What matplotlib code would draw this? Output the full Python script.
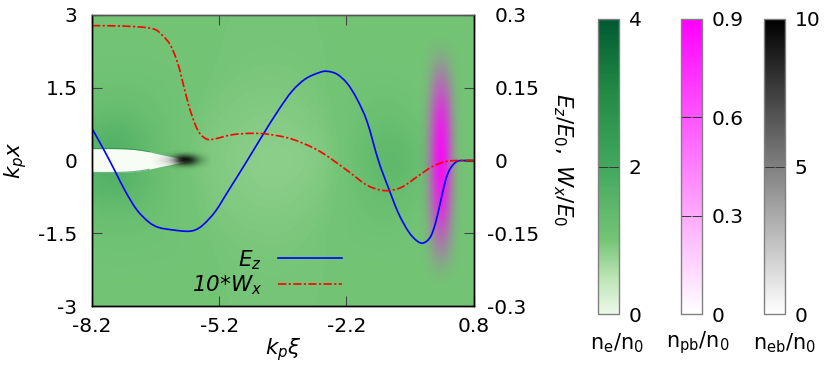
import numpy as np
import matplotlib
matplotlib.use("Agg")
import matplotlib.pyplot as plt
from matplotlib.colors import LinearSegmentedColormap, Normalize
from matplotlib.cm import ScalarMappable
from matplotlib.lines import Line2D
from matplotlib.patches import PathPatch
from matplotlib.path import Path
from matplotlib.transforms import ScaledTranslation

plt.rcParams['font.family'] = 'DejaVu Sans'
plt.rcParams['mathtext.fontset'] = 'dejavusans'

# ---- curves ----
ez_xi = [-8.2,-7.92,-7.65,-7.41,-7.14,-6.86,-6.63,-6.31,-5.96,-5.76,-5.57,-5.29,-4.98,-4.58,-4.19,-3.80,-3.48,-3.17,-2.85,-2.66,-2.42,-2.18,-1.95,-1.71,-1.44,-1.20,-0.97,-0.73,-0.53,-0.38,-0.22,-0.10,0.02,0.14,0.25,0.41,0.61,0.8]
ez_val = [.066,.022,-.023,-.064,-.102,-.127,-.138,-.143,-.146,-.143,-.132,-.105,-.062,-.006,.050,.104,.143,.168,.181,.184,.178,.159,.127,.080,-.001,-.058,-.109,-.147,-.166,-.170,-.158,-.130,-.086,-.041,-.017,-.002,0,0]
wx_xi = [-8.2,-7.41,-6.78,-6.55,-6.35,-6.19,-6.08,-5.92,-5.76,-5.64,-5.49,-5.33,-4.90,-4.43,-4.03,-3.48,-2.85,-2.22,-1.75,-1.44,-1.20,-0.89,-0.49,-0.18,0.14,0.45,0.8]
wx_val = [.278,.277,.272,.259,.238,.204,.169,.114,.073,.054,.044,.044,.053,.056,.054,.044,.020,-.018,-.049,-.060,-.062,-.055,-.031,-.013,-.002,0,0]

# ---- background plasma density, rows y = 0 ... 3 (mirrored), columns every 0.5 ----
ne_xi = [-8.2,-7.7,-7.2,-6.7,-6.2,-5.7,-5.2,-4.7,-4.2,-3.7,-3.2,-2.7,-2.2,-1.7,-1.2,-0.7,-0.2,0.3,0.8]
ne_y = [0,0.5,1,1.5,2,2.5,3]
ne_half = [
 [1.6,1.7,1.5,1.25,1.05,0.95,0.89,0.86,0.83,0.82,0.84,0.9,1.05,1.3,1.5,1.4,1.1,1.0,1.0],
 [1.5,1.7,1.5,1.25,1.08,0.97,0.91,0.88,0.85,0.85,0.88,0.94,1.05,1.25,1.35,1.25,1.05,1.0,1.0],
 [1.2,1.3,1.25,1.15,1.06,0.99,0.94,0.91,0.89,0.89,0.92,0.97,1.05,1.15,1.2,1.12,1.02,1.0,1.0],
 [1.1,1.12,1.12,1.1,1.06,1.02,0.98,0.95,0.94,0.94,0.96,1.0,1.05,1.08,1.08,1.05,1.0,1.0,1.0],
 [1.05,1.06,1.06,1.05,1.04,1.02,1.0,0.98,0.97,0.97,0.98,1.0,1.02,1.03,1.03,1.02,1.0,1.0,1.0],
 [1.02,1.02,1.02,1.02,1.02,1.01,1.0,1.0,0.99,0.99,1.0,1.0,1.01,1.01,1.01,1.01,1.0,1.0,1.0],
 [1.0]*19,
]
# bubble half width
bub_xi = [-8.2,-7.9,-7.6,-7.4,-7.2,-7.0,-6.85,-6.7,-6.5,-6.3,-6.1,-5.9]
bub_half = [.245,.247,.245,.24,.228,.205,.18,.148,.11,.075,.04,0]

# ---- proton beam, rows y = 0 ... 2.4 (mirrored) ----
pb_xi = [-0.45,-0.33,-0.21,-0.09,0.03,0.15,0.27,0.39,0.51]
pb_y = [0,0.4,0.8,1.2,1.6,2.0,2.4]
pb_half = [
 [0,.09,.36,.72,.90,.72,.36,.09,0],
 [0,.085,.34,.68,.85,.68,.34,.085,0],
 [0,.077,.31,.61,.77,.61,.31,.077,0],
 [0,.06,.24,.49,.61,.49,.24,.06,0],
 [0,.04,.16,.32,.40,.32,.16,.04,0],
 [0,.02,.07,.14,.18,.14,.07,.02,0],
 [0,0,0,0,0,0,0,0,0],
]

# ---- witness electron beam, rows y = 0 ... 0.2 (mirrored) ----
eb_xi = [-6.8,-6.7,-6.6,-6.5,-6.4,-6.3,-6.2,-6.1,-6.0,-5.9,-5.8,-5.7,-5.6,-5.5,-5.4]
eb_y = [0,0.05,0.1,0.15,0.2]
eb_half = [
 [0,.3,.7,1.2,2,3.5,6.5,9.5,10,9,6.5,3.5,2,.8,0],
 [0,.25,.6,1,1.6,2.8,5.2,7.6,8,7.2,5.2,2.8,1.6,.6,0],
 [0,.12,.3,.5,.8,1.4,2.6,3.8,4,3.6,2.6,1.4,.8,.3,0],
 [0,.03,.07,.12,.2,.35,.65,.95,1,.9,.65,.35,.2,.08,0],
 [0]*15,
]

x_ticks = [-8.2,-5.2,-2.2,0.8]
x_labels = ['-8.2','-5.2','-2.2','0.8']
y_ticks = [-3,-1.5,0,1.5,3]
y_labels = ['-3','-1.5','0','1.5','3']
y2_ticks = [-0.3,-0.15,0,0.15,0.3]
y2_labels = ['-0.3','-0.15','0','0.15','0.3']

# ---- colour maps ----
green = LinearSegmentedColormap.from_list('g', [(0,'#edf8e9'),(0.125,'#bae4b3'),(0.25,'#74c476'),
                                                (0.5,'#41a85d'),(0.75,'#238b45'),(1,'#005a32')])
magenta = LinearSegmentedColormap.from_list('m', ['#ffffff','#ff00ff'])
black = LinearSegmentedColormap.from_list('k', ['#ffffff','#000000'])
magenta_a = LinearSegmentedColormap.from_list('ma', [(1,0,1,0),(1,0,1,1)])
black_a = LinearSegmentedColormap.from_list('ka', [(0,0,0,0),(0,0,0,1)])

W, H = 830, 369
TICK = 14.5
LAB = 15.5
fig = plt.figure(figsize=(W/100, H/100), dpi=100)
ax = fig.add_axes([92/W, (H-306)/H, 381.5/W, 291/H])

def mirrored(rows):
    a = np.array(rows, float)
    return np.vstack([a[:0:-1], a])

def show(rows, xs, ys, cmap, vmax, z):
    dx = xs[1]-xs[0]; dy = ys[1]-ys[0]
    ax.imshow(mirrored(rows), origin='lower', aspect='auto', cmap=cmap, vmin=0, vmax=vmax,
              extent=[xs[0]-dx/2, xs[-1]+dx/2, -ys[-1]-dy/2, ys[-1]+dy/2],
              interpolation='bicubic', zorder=z)

def smooth_path(xs, ys):
    # a cubic Bezier path through the read points (Catmull-Rom tangents)
    p = np.column_stack([xs, ys]).astype(float)
    q = np.vstack([p[0], p, p[-1]])
    verts = [p[0]]
    for i in range(1, len(q)-2):
        verts += [q[i]+(q[i+1]-q[i-1])/6, q[i+1]-(q[i+2]-q[i])/6, q[i+1]]
    return Path(verts, [Path.MOVETO]+[Path.CURVE4]*(3*(len(p)-1)))

show(ne_half, ne_xi, ne_y, green, 4, 1)
bx = np.array(bub_xi); bh = np.array(bub_half)
ax.fill_between(bx, -bh, bh, color='#f7fcf5', lw=0, zorder=2)
ax.plot(bx[:7], bh[:7], color='#1e8246', lw=0.8, alpha=0.6, zorder=2)
ax.plot(bx[:7], -bh[:7], color='#1e8246', lw=0.8, alpha=0.6, zorder=2)
show(pb_half, pb_xi, pb_y, magenta_a, 0.9, 3)
show(eb_half, eb_xi, eb_y, black_a, 10, 4)

ax.set_xlim(-8.2, 0.8)
ax.set_ylim(-3, 3)
ax.set_xticks(x_ticks, x_labels)
ax.set_yticks(y_ticks, y_labels)

ax2 = ax.twinx()
ax2.set_ylim(-0.3, 0.3)
ax2.set_yticks(y2_ticks, y2_labels)
RED_DASH = (5, 1.4, 1.3, 1.4)
ax2.add_patch(PathPatch(smooth_path(ez_xi, ez_val), fill=False, edgecolor='#0000ff', lw=1.2))
ax2.add_patch(PathPatch(smooth_path(wx_xi, wx_val), fill=False, edgecolor='#ff0000', lw=1.2,
                        linestyle=(0, RED_DASH)))
l1 = Line2D([], [], color='#0000ff', lw=1.2, label='E$_z$')
l2 = Line2D([], [], color='#ff0000', lw=1.2, dashes=RED_DASH, label='10*W$_x$')

tick_col = '#444444'
ax.tick_params(axis='x', which='both', direction='in', length=7.2, width=0.8, color=tick_col,
               top=True, labelsize=TICK, pad=8)
ax.tick_params(axis='y', direction='in', length=7.2, width=0.8, color=tick_col, labelsize=TICK, pad=10.5)
ax2.tick_params(axis='y', direction='in', length=7.2, width=0.8, color=tick_col, labelsize=TICK, pad=15)
for a in (ax, ax2):
    for s in a.spines.values():
        s.set_linewidth(1.0)
    a.spines['top'].set_color('#555555')

# negative right-hand labels hang to the left
for lab, txt in zip(ax2.get_yticklabels(), y2_labels):
    if txt.startswith('-'):
        lab.set_transform(lab.get_transform() + ScaledTranslation(-7/100, 0, fig.dpi_scale_trans))

leg = ax2.legend(handles=[l1, l2], markerfirst=False, frameon=False,
                 prop={'size': LAB, 'style': 'oblique'}, alignment='right',
                 handlelength=2.97, handletextpad=0.74, labelspacing=0.1,
                 loc='lower right', bbox_to_anchor=(250/381.5, 0.03), borderaxespad=0, borderpad=0)

fig.text(283/W, 1-350/H, r'$k_p\xi$', ha='center', va='center', fontsize=LAB)
fig.text(16/W, 1-160/H, r'$k_p x$', ha='center', va='center', rotation=90, fontsize=LAB)
fig.text(563/W, 1-160/H, r'$E_z/E_0,\ W_x/E_0$', ha='center', va='center', rotation=270, fontsize=LAB)

# ---- colour bars ----
bars = [(598, green, 4, [0,2,4], ['0','2','4'], r'$\mathrm{n_e/n_0}$', 617),
        (681, magenta, 0.9, [0,0.3,0.6,0.9], ['0','0.3','0.6','0.9'], r'$\mathrm{n_{pb}/n_0}$', 698),
        (764, black, 10, [0,5,10], ['0','5','10'], r'$\mathrm{n_{eb}/n_0}$', 785)]
for left, cmap, vmax, ticks, labs, name, cx in bars:
    cax = fig.add_axes([left/W, (H-314)/H, 21/W, 295/H])
    cb = fig.colorbar(ScalarMappable(Normalize(0, vmax), cmap), cax=cax)
    cb.set_ticks(ticks, labels=labs)
    cb.outline.set_edgecolor('#808080')
    cb.outline.set_linewidth(1.0)
    cax.tick_params(axis='y', direction='in', left=True, right=True, length=7, width=0.7,
                    color='#333333', labelsize=TICK, pad=7)
    fig.text(cx/W, 1-343/H, name, ha='center', va='center', fontsize=LAB-0.5)

fig.savefig('out.png', dpi=100)
